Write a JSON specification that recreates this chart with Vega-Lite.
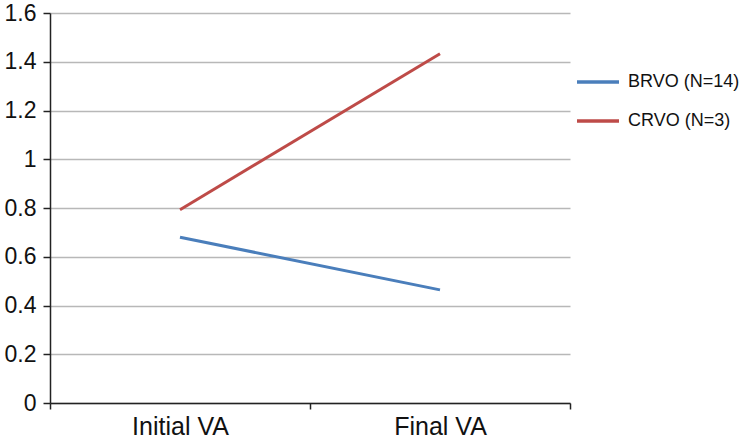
{
  "$schema": "https://vega.github.io/schema/vega-lite/v6.json",
  "width": 520,
  "height": 390,
  "autosize": {"type": "none"},
  "padding": {"left": 50, "top": 13, "right": 178, "bottom": 42},
  "background": "white",
  "config": {
    "view": {"stroke": null},
    "font": "Liberation Sans"
  },
  "data": {
    "values": [
      {"time": "Initial VA", "group": "BRVO (N=14)", "va": 0.68},
      {"time": "Final VA", "group": "BRVO (N=14)", "va": 0.464},
      {"time": "Initial VA", "group": "CRVO (N=3)", "va": 0.793},
      {"time": "Final VA", "group": "CRVO (N=3)", "va": 1.433}
    ]
  },
  "mark": {"type": "line", "strokeWidth": 3},
  "encoding": {
    "x": {
      "field": "time",
      "type": "nominal",
      "sort": ["Initial VA", "Final VA"],
      "scale": {"type": "band", "paddingInner": 0, "paddingOuter": 0},
      "axis": {
        "title": null,
        "labelAngle": 0,
        "tickBand": "extent",
        "domainColor": "#222",
        "domainWidth": 1.5,
        "tickColor": "#222",
        "tickWidth": 1.5,
        "tickSize": 6,
        "labelFontSize": 25,
        "labelColor": "#111",
        "labelPadding": 5,
        "grid": false
      }
    },
    "y": {
      "field": "va",
      "type": "quantitative",
      "scale": {"domain": [0, 1.6], "nice": false},
      "axis": {
        "title": null,
        "values": [0, 0.2, 0.4, 0.6, 0.8, 1, 1.2, 1.4, 1.6],
        "format": ".2~f",
        "domainColor": "#222",
        "domainWidth": 1.5,
        "tickColor": "#222",
        "tickWidth": 1.5,
        "tickSize": 7,
        "labelFontSize": 23,
        "labelColor": "#111",
        "labelPadding": 7,
        "grid": true,
        "gridColor": "#b8b8b8",
        "gridWidth": 1.5
      }
    },
    "color": {
      "field": "group",
      "type": "nominal",
      "scale": {"domain": ["BRVO (N=14)", "CRVO (N=3)"], "range": ["#4A7EBB", "#BE4B48"]},
      "legend": {
        "title": null,
        "orient": "none",
        "legendX": 525,
        "legendY": 46,
        "symbolType": "stroke",
        "symbolSize": 1764,
        "symbolStrokeWidth": 3.5,
        "labelFontSize": 18,
        "labelColor": "#111",
        "rowPadding": 7,
        "labelOffset": 7
      }
    }
  }
}
